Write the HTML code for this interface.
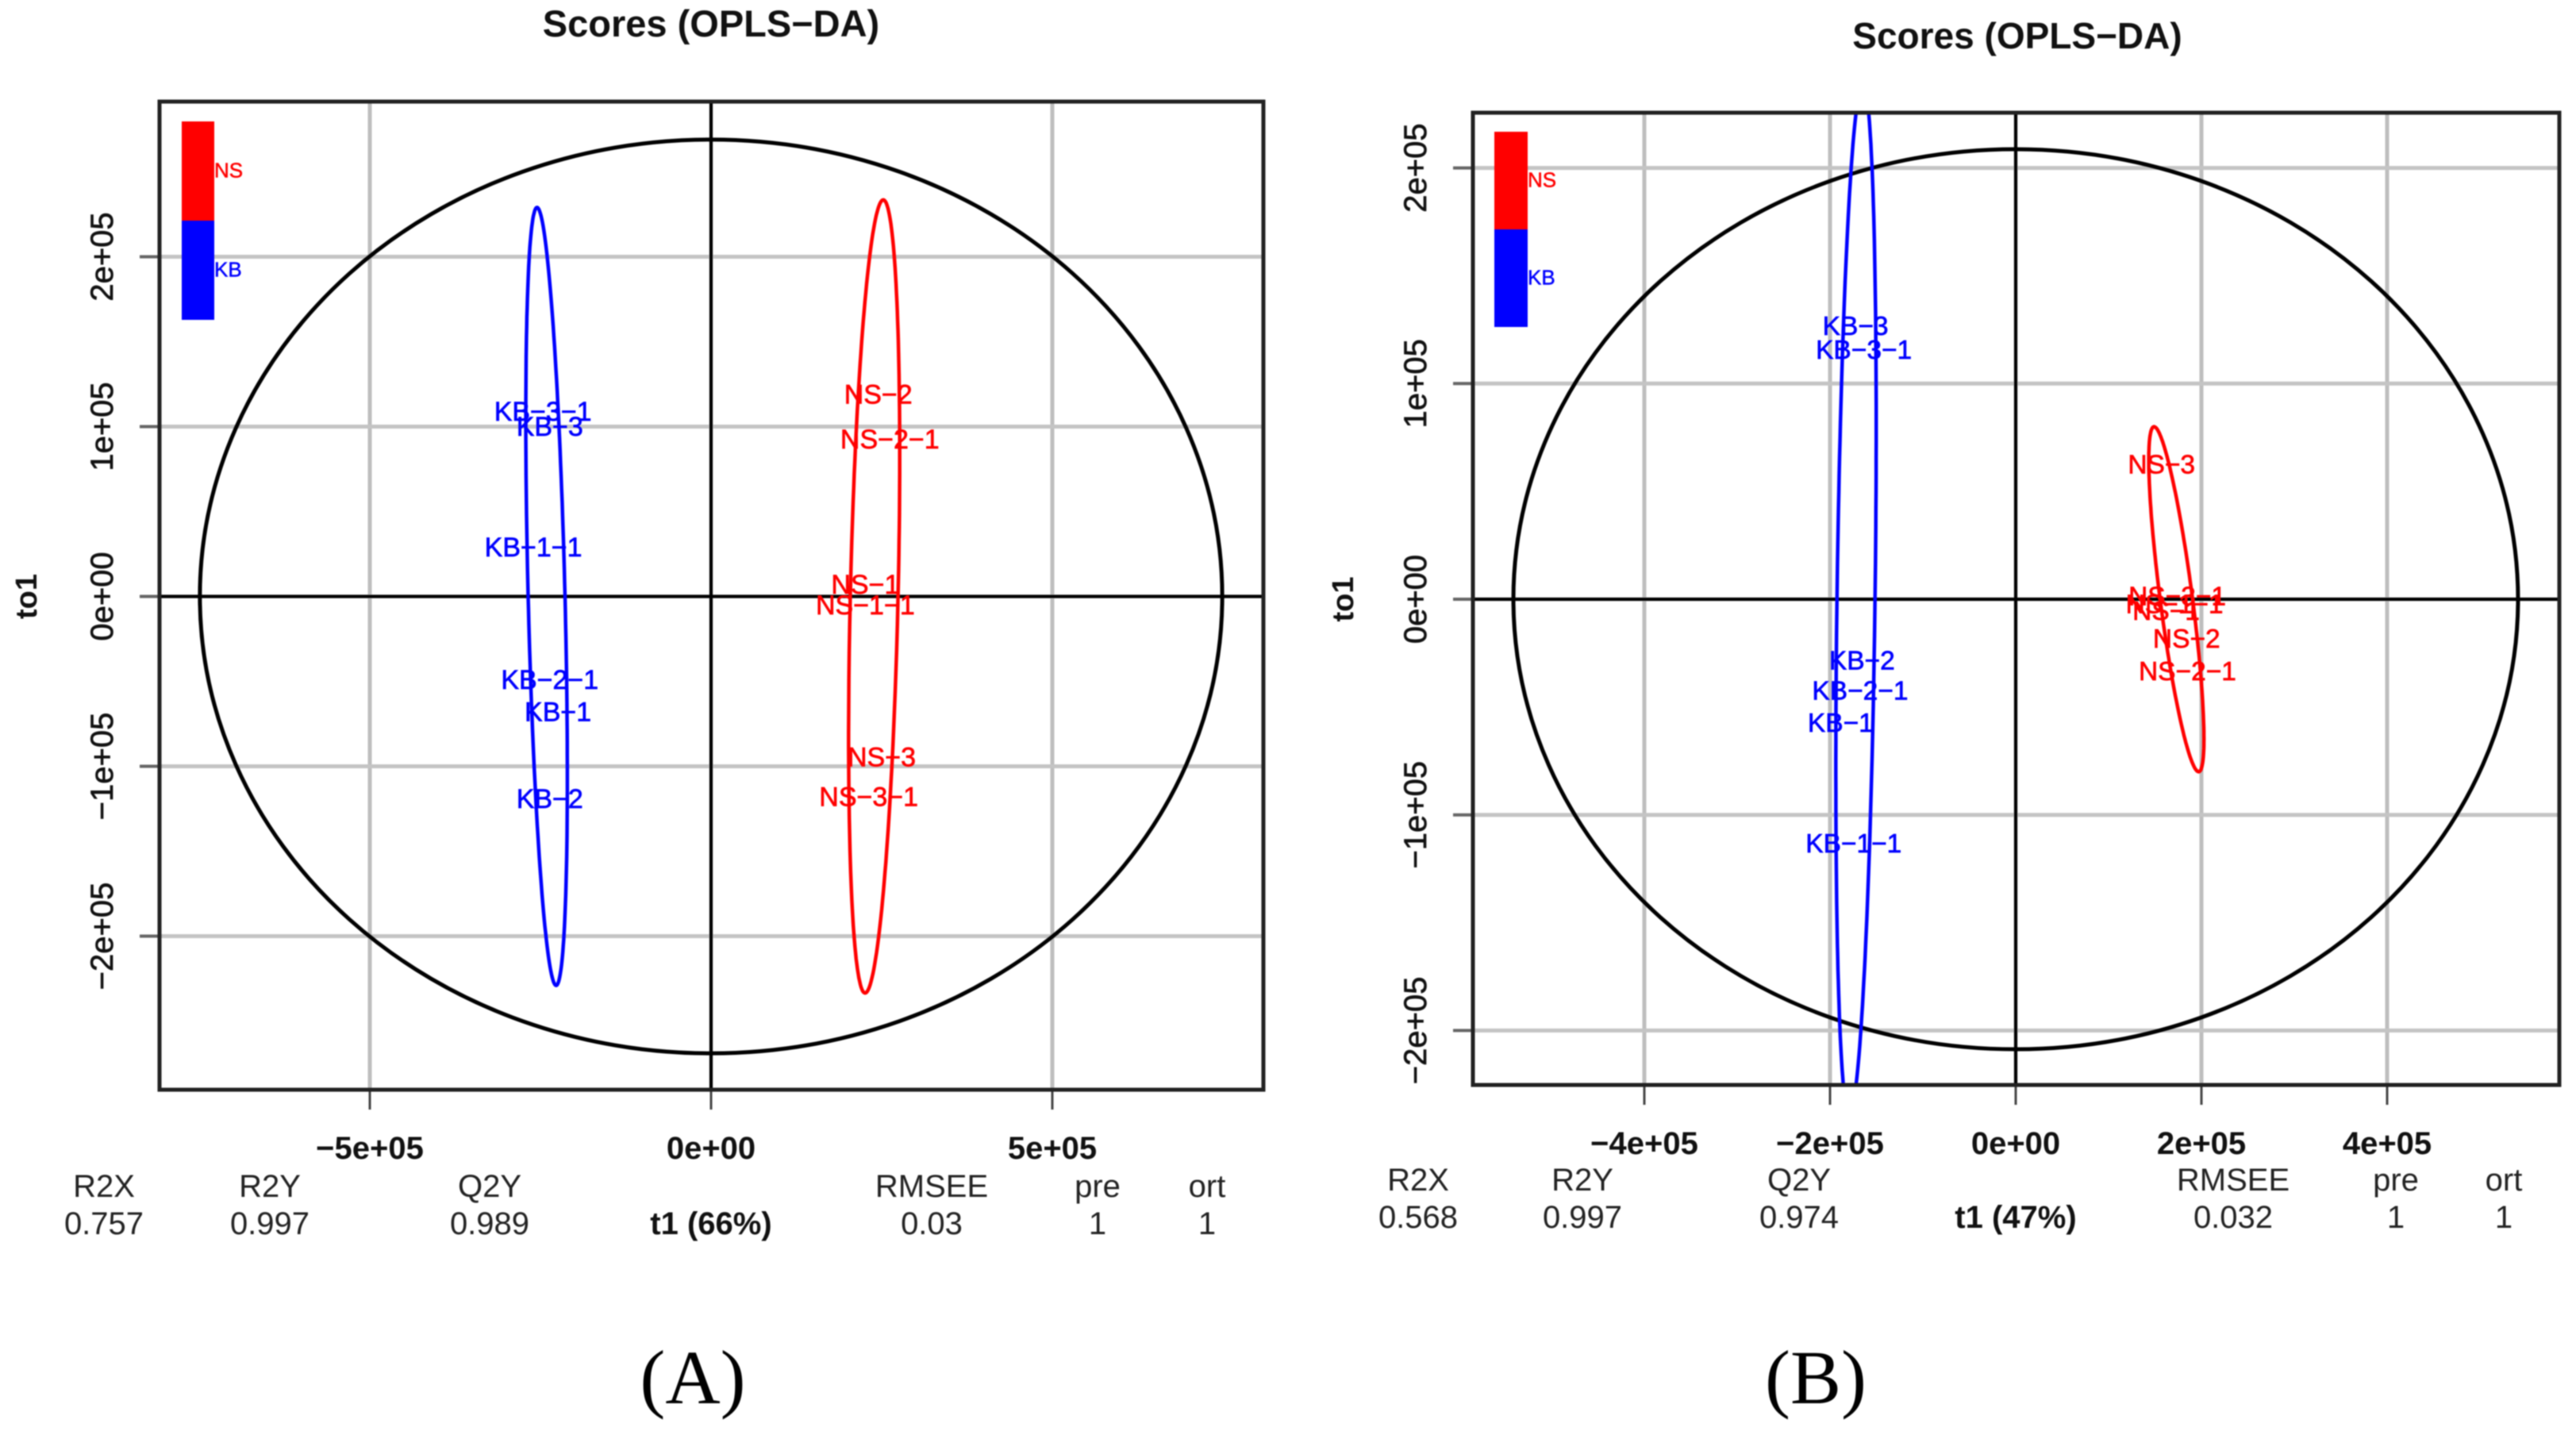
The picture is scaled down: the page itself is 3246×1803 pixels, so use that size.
<!DOCTYPE html>
<html lang="en">
<head>
<meta charset="utf-8">
<title>OPLS-DA Scores</title>
<style>
html,body{margin:0;padding:0;background:#fff;width:3246px;height:1803px;overflow:hidden}
#figure{display:block;filter:blur(0.7px);font-family:"Liberation Sans",sans-serif}
.metric{font-size:40px;fill:#222;text-anchor:middle}
.bold{font-weight:bold;fill:#111}
.title{font-size:47px;font-weight:bold;fill:#111;text-anchor:middle}
.panel{font-family:"Liberation Serif",serif;font-size:96px;fill:#000;text-anchor:middle}
</style>
</head>
<body>
<svg id="figure" xmlns="http://www.w3.org/2000/svg" width="3246" height="1803" viewBox="0 0 3246 1803">
  <rect width="3246" height="1803" fill="#fff"/>
  <g id="chart-a"></g>
  <g id="chart-b"></g>

  <text class="title" x="896" y="46">Scores (OPLS−DA)</text>
  <text class="title" x="2542" y="61" style="font-size:46px">Scores (OPLS−DA)</text>

  <g>
    <text class="metric" x="131" y="1508">R2X</text>
    <text class="metric" x="340" y="1508">R2Y</text>
    <text class="metric" x="617" y="1508">Q2Y</text>
    <text class="metric" x="1174" y="1508">RMSEE</text>
    <text class="metric" x="1383" y="1508">pre</text>
    <text class="metric" x="1521" y="1508">ort</text>
    <text class="metric" x="131" y="1555">0.757</text>
    <text class="metric" x="340" y="1555">0.997</text>
    <text class="metric" x="617" y="1555">0.989</text>
    <text class="metric bold" x="896" y="1555">t1 (66%)</text>
    <text class="metric" x="1174" y="1555">0.03</text>
    <text class="metric" x="1383" y="1555">1</text>
    <text class="metric" x="1521" y="1555">1</text>
  </g>

  <g>
    <text class="metric" x="1787" y="1500">R2X</text>
    <text class="metric" x="1994" y="1500">R2Y</text>
    <text class="metric" x="2267" y="1500">Q2Y</text>
    <text class="metric" x="2814" y="1500">RMSEE</text>
    <text class="metric" x="3019" y="1500">pre</text>
    <text class="metric" x="3155" y="1500">ort</text>
    <text class="metric" x="1787" y="1547">0.568</text>
    <text class="metric" x="1994" y="1547">0.997</text>
    <text class="metric" x="2267" y="1547">0.974</text>
    <text class="metric bold" x="2540" y="1547">t1 (47%)</text>
    <text class="metric" x="2814" y="1547">0.032</text>
    <text class="metric" x="3019" y="1547">1</text>
    <text class="metric" x="3155" y="1547">1</text>
  </g>

  <text class="panel" x="873" y="1768">(A)</text>
  <text class="panel" x="2288" y="1768">(B)</text>
</svg>

<script>
/* Panel A data (score units) */
const aXTicks = [-500000, 0, 500000];
const aXTickLabels = ["−5e+05", "0e+00", "5e+05"];
const aYTicks = [-200000, -100000, 0, 100000, 200000];
const aYTickLabels = ["−2e+05", "−1e+05", "0e+00", "1e+05", "2e+05"];
const aKbNames = ["KB−3−1", "KB−3", "KB−1−1", "KB−2−1", "KB−1", "KB−2"];
const aKbT1 = [-244000, -234000, -258000, -234000, -222000, -234000];
const aKbTo1 = [108000, 99000, 28000, -50000, -69000, -120000];
const aNsNames = ["NS−2", "NS−2−1", "NS−1", "NS−1−1", "NS−3", "NS−3−1"];
const aNsT1 = [245000, 262000, 226000, 226000, 250000, 231000];
const aNsTo1 = [118000, 91500, 6000, -6000, -95500, -119000];
const aHotelling = [749000, 269000];
const aKbEllipse = [-241000, 0, -14000, 229000, 27000];
const aNsEllipse = [239000, 0, 13300, 233500, 35000];

/* Panel B data (score units) */
const bXTicks = [-400000, -200000, 0, 200000, 400000];
const bXTickLabels = ["−4e+05", "−2e+05", "0e+00", "2e+05", "4e+05"];
const bYTicks = [-200000, -100000, 0, 100000, 200000];
const bYTickLabels = ["−2e+05", "−1e+05", "0e+00", "1e+05", "2e+05"];
const bKbNames = ["KB−3", "KB−3−1", "KB−2", "KB−2−1", "KB−1", "KB−1−1"];
const bKbT1 = [-170000, -161000, -163000, -165000, -186000, -172000];
const bKbTo1 = [126000, 115000, -29000, -43000, -58000, -114000];
const bNsNames = ["NS−3", "NS−3−1", "NS−1−1", "NS−1", "NS−2", "NS−2−1"];
const bNsT1 = [157000, 174000, 171000, 162000, 184000, 185000];
const bNsTo1 = [61800, 700, -3000, -6000, -19000, -34000];
const bHotelling = [541000, 208700];
const bKbEllipse = [-172000, 0, 7200, 239000, 20500];
const bNsEllipse = [173000, 0, -24000, 80000, 17500];

const SVG_NS = "http://www.w3.org/2000/svg";

function make(parent, tag, attrs, text) {
  const el = document.createElementNS(SVG_NS, tag);
  for (const k in attrs) el.setAttribute(k, attrs[k]);
  if (text !== undefined) el.textContent = text;
  parent.appendChild(el);
  return el;
}

function slug(s) {
  return s.replace(/−/g, "-").toLowerCase();
}

function ellipsePath(sx, sy, e) {
  const pts = [];
  for (let i = 0; i < 180; i++) {
    const th = i / 180 * Math.PI * 2;
    const t = e[0] + e[2] * Math.cos(th) + e[4] * Math.sin(th);
    const o = e[1] + e[3] * Math.cos(th);
    pts.push(sx(t).toFixed(1) + "," + sy(o).toFixed(1));
  }
  return "M" + pts.join("L") + "Z";
}

function drawPanel(id, suffix, box, d) {
  const root = document.getElementById(id);
  const sx = v => box.x0 + v * box.kx;
  const sy = v => box.y0 - v * box.ky;
  const clipId = "clip-" + suffix;

  const defs = make(root, "defs", {});
  const cp = make(defs, "clipPath", { id: clipId });
  make(cp, "rect", { x: box.left, y: box.top, width: box.right - box.left, height: box.bottom - box.top });

  d.xTicks.forEach((v, i) => {
    const grid = make(root, "line", { x1: sx(v), x2: sx(v), y1: box.top, y2: box.bottom, stroke: "#bebebe", "stroke-width": 5 });
    
    
    const tick = make(root, "line", { x1: sx(v), x2: sx(v), y1: box.bottom, y2: box.bottom + 25, stroke: "#444", "stroke-width": 3 });
    
    
    const label = make(root, "text", { x: sx(v), y: box.bottom + 87, "text-anchor": "middle", "font-size": 40, "font-weight": "bold", fill: "#111" }, d.xLabels[i]);
    
    
  });

  d.yTicks.forEach((v, i) => {
    const grid = make(root, "line", { x1: box.left, x2: box.right, y1: sy(v), y2: sy(v), stroke: "#c4c4c4", "stroke-width": 5 });
    
    
    const tick = make(root, "line", { x1: box.left - 25, x2: box.left, y1: sy(v), y2: sy(v), stroke: "#666", "stroke-width": 4 });
    
    
    const lx = box.left - 59;
    const label = make(root, "text", { x: lx, y: sy(v), "text-anchor": "middle", "font-size": 40, fill: "#111", stroke: "#111", "stroke-width": 0.7, transform: "rotate(-90 " + lx + " " + sy(v) + ")" }, d.yLabels[i]);
    
    
  });

  const yTitle = make(root, "text", { x: box.yTitleX, y: sy(0), "text-anchor": "middle", "font-size": 38, "font-weight": "bold", fill: "#111", transform: "rotate(-90 " + box.yTitleX + " " + sy(0) + ")" }, "to1");
  
  

  const zeroH = make(root, "line", { x1: box.left, x2: box.right, y1: sy(0), y2: sy(0), stroke: "#000", "stroke-width": 4 });
  
  
  const zeroV = make(root, "line", { x1: sx(0), x2: sx(0), y1: box.top, y2: box.bottom, stroke: "#000", "stroke-width": 4 });
  
  

  const hot = make(root, "ellipse", { cx: sx(0), cy: sy(0), rx: d.hotelling[0] * box.kx, ry: d.hotelling[1] * box.ky, fill: "none", stroke: "#000", "stroke-width": 5 });
  
  

  const kbE = make(root, "path", { d: ellipsePath(sx, sy, d.kbEllipse), fill: "none", stroke: "#0000ff", "stroke-width": 4.5, "clip-path": "url(#" + clipId + ")" });
  
  
  const nsE = make(root, "path", { d: ellipsePath(sx, sy, d.nsEllipse), fill: "none", stroke: "#ff0000", "stroke-width": 4.5, "clip-path": "url(#" + clipId + ")" });
  
  

  d.kbNames.forEach((n, i) => {
    const t = make(root, "text", { x: sx(d.kbT1[i]) + box.labelDx, y: sy(d.kbTo1[i]) + 9.5, "text-anchor": "middle", "font-size": box.labelSize, fill: "#0000ff", stroke: "#0000ff", "stroke-width": 0.7 }, n);
    
    
  });
  d.nsNames.forEach((n, i) => {
    const t = make(root, "text", { x: sx(d.nsT1[i]), y: sy(d.nsTo1[i]) + 9.5, "text-anchor": "middle", "font-size": box.labelSize, fill: "#ff0000", stroke: "#ff0000", "stroke-width": 0.7 }, n);
    
    
  });

  const lg = box.legend;
  const nsBar = make(root, "rect", { x: lg.x, y: lg.y, width: lg.w, height: lg.h, fill: "#ff0000" });
  
  
  const kbBar = make(root, "rect", { x: lg.x, y: lg.y + lg.h, width: lg.w, height: lg.h, fill: "#0000ff" });
  
  
  const nsLab = make(root, "text", { x: lg.x + lg.w, y: lg.y + lg.h / 2 + 8, "font-size": 26, fill: "#ff0000", stroke: "#ff0000", "stroke-width": 0.5 }, "NS");
  
  
  const kbLab = make(root, "text", { x: lg.x + lg.w, y: lg.y + lg.h * 1.5 + 8, "font-size": 26, fill: "#0000ff", stroke: "#0000ff", "stroke-width": 0.5 }, "KB");
  
  

  const frame = make(root, "rect", { x: box.left, y: box.top, width: box.right - box.left, height: box.bottom - box.top, fill: "none", stroke: "#222", "stroke-width": 5 });
  
  
}

drawPanel("chart-a", "a",
  { left: 201, right: 1592, top: 128, bottom: 1373, x0: 896, kx: 86 / 100000, y0: 751.5, ky: 214 / 100000, yTitleX: 46, labelSize: 34, labelDx: -2,
    legend: { x: 229, y: 153, w: 41, h: 125 } },
  { xTicks: aXTicks, xLabels: aXTickLabels, yTicks: aYTicks, yLabels: aYTickLabels,
    kbNames: aKbNames, kbT1: aKbT1, kbTo1: aKbTo1, nsNames: aNsNames, nsT1: aNsT1, nsTo1: aNsTo1,
    hotelling: aHotelling, kbEllipse: aKbEllipse, nsEllipse: aNsEllipse });

drawPanel("chart-b", "b",
  { left: 1856, right: 3225, top: 142, bottom: 1367, x0: 2540, kx: 117 / 100000, y0: 755, ky: 271.7 / 100000, yTitleX: 1705, labelSize: 33.5, labelDx: -3,
    legend: { x: 1883, y: 166, w: 42, h: 123 } },
  { xTicks: bXTicks, xLabels: bXTickLabels, yTicks: bYTicks, yLabels: bYTickLabels,
    kbNames: bKbNames, kbT1: bKbT1, kbTo1: bKbTo1, nsNames: bNsNames, nsT1: bNsT1, nsTo1: bNsTo1,
    hotelling: bHotelling, kbEllipse: bKbEllipse, nsEllipse: bNsEllipse });
</script>
</body>
</html>
